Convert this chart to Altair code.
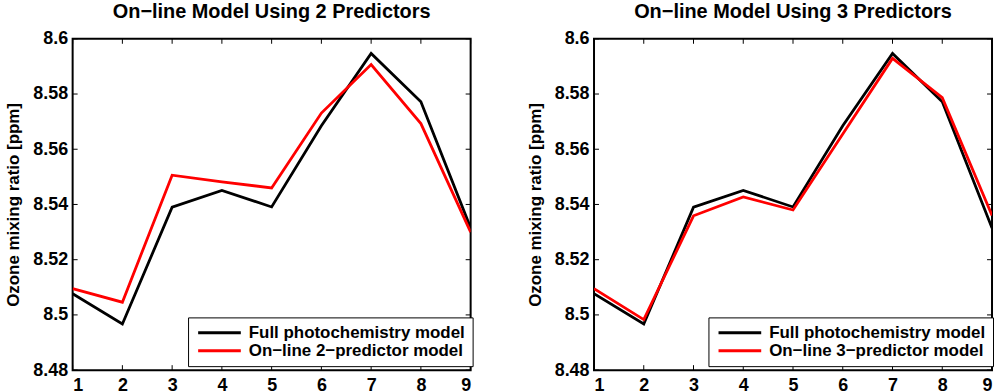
import altair as alt
import pandas as pd

steps = [1, 2, 3, 4, 5, 6, 7, 8, 9]
full_model = [8.5077, 8.4967, 8.5390, 8.5451, 8.5391, 8.5685, 8.5947, 8.5772, 8.5315]
online_2pred = [8.5095, 8.5046, 8.5506, 8.5482, 8.5460, 8.5731, 8.5907, 8.5693, 8.5300]
online_3pred = [8.5095, 8.4983, 8.5359, 8.5427, 8.5380, 8.5655, 8.5929, 8.5787, 8.5360]

y_ticks = [8.48, 8.50, 8.52, 8.54, 8.56, 8.58, 8.60]
x_ticks = steps

FULL = "Full photochemistry model"
W, H = 400, 333
FONT = "Liberation Sans"


def panel(title, online_name, online_vals, legend_x):
    df = pd.DataFrame({
        "step": steps * 2,
        "value": full_model + online_vals,
        "series": [FULL] * 9 + [online_name] * 9,
    })
    xs = alt.Scale(domain=[1, 9], nice=False, zero=False)
    ys = alt.Scale(domain=[8.48, 8.6], nice=False, zero=False)
    lines = alt.Chart(df).mark_line(strokeWidth=2.8, clip=True).encode(
        x=alt.X("step:Q", scale=xs,
                axis=alt.Axis(values=x_ticks, title=None, tickSize=0, domain=False,
                              grid=False, labelPadding=6, labelFontSize=18,
                              labelFontWeight="bold", labelColor="black",
                              labelFont=FONT, format="d")),
        y=alt.Y("value:Q", scale=ys,
                axis=alt.Axis(values=y_ticks, title="Ozone mixing ratio [ppm]",
                              tickSize=0, domain=False, grid=False, format=".2~f",
                              labelPadding=5, labelFontSize=18, labelFontWeight="bold",
                              labelColor="black", labelFont=FONT,
                              titleFontSize=17, titleFontWeight="bold",
                              titleColor="black", titleFont=FONT, titlePadding=10)),
        color=alt.Color("series:N",
                        scale=alt.Scale(domain=[FULL, online_name], range=["black", "#ff0000"]),
                        legend=alt.Legend(title=None, orient="none", legendX=legend_x,
                                          legendY=280, symbolType="M-1,0H7",
                                          symbolSize=115, symbolStrokeWidth=3,
                                          labelFontSize=17, labelFontWeight="bold",
                                          labelFont=FONT, labelColor="black",
                                          labelOffset=37, strokeColor="black",
                                          fillColor="white", padding=7,
                                          rowPadding=0, labelLimit=400)),
    )
    ydf = pd.DataFrame({"v": y_ticks})
    xdf = pd.DataFrame({"s": x_ticks})
    yl = alt.Chart(ydf).mark_rule(color="black", strokeWidth=1).encode(
        y=alt.Y("v:Q", scale=ys), x=alt.value(0), x2=alt.value(5))
    yr = alt.Chart(ydf).mark_rule(color="black", strokeWidth=1).encode(
        y=alt.Y("v:Q", scale=ys), x=alt.value(W - 5), x2=alt.value(W))
    xb = alt.Chart(xdf).mark_rule(color="black", strokeWidth=1).encode(
        x=alt.X("s:Q", scale=xs), y=alt.value(H - 5), y2=alt.value(H))
    xt = alt.Chart(xdf).mark_rule(color="black", strokeWidth=1).encode(
        x=alt.X("s:Q", scale=xs), y=alt.value(0), y2=alt.value(5))
    return alt.layer(yl, yr, xb, xt, lines).properties(
        width=W, height=H,
        title=alt.Title(title, fontSize=20, fontWeight="bold", font=FONT,
                        color="black", offset=8),
    )


left = panel("On\u2212line Model Using 2 Predictors", "On\u2212line 2\u2212predictor model",
             online_2pred, 116)
right = panel("On\u2212line Model Using 3 Predictors", "On\u2212line 3\u2212predictor model",
              online_3pred, 115)

chart = alt.hconcat(left, right, spacing=124, bounds="flush").resolve_scale(
    color="independent"
).resolve_legend(color="independent").properties(
    padding={"left": 3, "top": 0, "right": 0, "bottom": 0},
    background="white",
).configure_view(stroke="black", strokeWidth=2)

chart.save("out.html", embed_options={"renderer": "svg", "actions": False})
